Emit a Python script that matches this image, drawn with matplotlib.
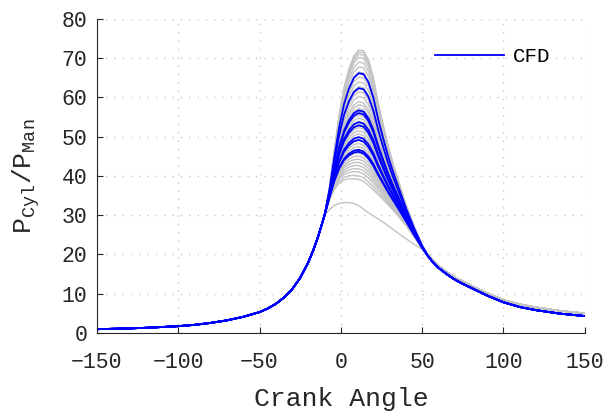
import matplotlib
matplotlib.use('Agg')
import matplotlib.pyplot as plt
import numpy as np

plt.rcParams['font.family'] = ['Liberation Mono', 'DejaVu Sans Mono']
plt.rcParams['mathtext.fontset'] = 'custom'
plt.rcParams['mathtext.rm'] = 'Liberation Mono'
plt.rcParams['mathtext.it'] = 'Liberation Mono'

# crank angle stations (deg)
rise_ang = [-150, -140, -130, -120, -110, -100, -90, -80, -70, -60, -50, -45,
            -40, -35, -30, -25, -20, -17, -14, -12, -10]
burn_ang = [-7, -4, -1, 2, 5, 8, 11, 14, 17, 20, 23, 26, 29, 32, 36, 40, 45, 50]
tail_ang = [53, 56, 60, 65, 70, 75, 80, 90, 100, 110, 120, 135, 150]

# compression stroke, common to every cycle
rise = [0.95, 1.05, 1.15, 1.3, 1.5, 1.72, 2.05, 2.55, 3.2, 4.1, 5.3, 6.2,
        7.4, 9.0, 11.1, 14.0, 18.0, 21.0, 24.5, 27.2, 30.0]

# strongest and weakest combustion traces
burn_hi = [37.0, 46.5, 55.5, 62.5, 67.2, 70.5, 72.0, 71.8, 69.5, 65.0, 58.5,
           53.0, 47.8, 43.3, 38.0, 32.8, 27.2, 22.3]
burn_lo = [33.8, 36.5, 38.0, 38.8, 39.0, 39.0, 38.8, 38.3, 37.3, 36.2, 35.0,
           33.8, 32.5, 31.2, 29.3, 27.3, 24.4, 21.5]

# late-burning cycle
burn_slow = [31.4, 32.5, 33.0, 33.2, 33.2, 33.0, 32.4, 31.5, 30.6, 29.8, 29.0,
             28.2, 27.3, 26.4, 25.2, 24.0, 22.6, 21.3]

# expansion stroke
tail_meas = [20.3, 18.8, 17.1, 15.5, 14.2, 13.1, 12.1, 10.1, 8.4, 7.3, 6.5, 5.6, 5.0]
tail_cfd = [19.9, 18.3, 16.6, 15.0, 13.6, 12.5, 11.5, 9.5, 7.8, 6.6, 5.8, 4.9, 4.3]

# peak pressure ratio of each cycle
meas_peak = [72.1, 71.6, 71.0, 70.2, 69.0, 67.8, 66.5, 65.2, 64.0, 62.8,
             61.5, 60.3, 59.0, 58.2, 57.3, 56.5, 55.6, 54.8, 54.0, 53.2,
             52.4, 51.6, 50.8, 50.0, 49.2, 48.4, 47.6, 46.8, 46.0, 45.2,
             44.4, 43.6, 42.8, 42.0, 41.2, 40.2, 39.3]
cfd_peak = [66.2, 62.4, 56.8, 56.1, 53.8, 53.0, 50.0, 49.3, 46.8, 46.3]

angle = np.array(rise_ang + burn_ang + tail_ang)
hi = np.array(burn_hi)
lo = np.array(burn_lo)


def cycle(peak, tail):
    w = (peak - lo.max()) / (hi.max() - lo.max())
    return np.concatenate([rise, lo + w * (hi - lo), tail])


fig = plt.figure(figsize=(6.13, 4.11), dpi=100)
ax = fig.add_axes([0.158, 0.19, 0.796, 0.764])

gray = '#c3c3c3'
for p in meas_peak:
    ax.plot(angle, cycle(p, tail_meas), color=gray, lw=1.0)
ax.plot(angle, np.concatenate([rise, burn_slow, tail_meas]), color=gray, lw=1.0)

for i, p in enumerate(cfd_peak):
    ax.plot(angle, cycle(p, tail_cfd), color='blue', lw=1.3,
            label='CFD' if i == 0 else None)

ax.set_xlim(-150, 150)
ax.set_ylim(0, 80)
ax.set_xticks(np.arange(-150, 151, 50))
ax.set_yticks(np.arange(0, 81, 10))
ax.tick_params(direction='in', length=4, labelsize=15.5, colors='#262626')
ax.tick_params(axis='x', pad=14)
ax.tick_params(axis='y', pad=7)
for s in ['top', 'right']:
    ax.spines[s].set_visible(False)
for s in ['left', 'bottom']:
    ax.spines[s].set_color('#262626')
ax.grid(True, color='#c8c8c8', linestyle=(0, (1, 5)), lw=1.0)

ax.set_xlabel('Crank Angle', fontsize=19, color='#262626', labelpad=10)
ax.set_ylabel(r'$\mathrm{P_{Cyl}/P_{Man}}$', fontsize=19, color='#262626',
              labelpad=14)

ax.legend(loc='upper right', frameon=False, fontsize=15, handlelength=3.3,
          handletextpad=0.4, bbox_to_anchor=(0.967, 0.97))

fig.savefig('out.png', dpi=100)
